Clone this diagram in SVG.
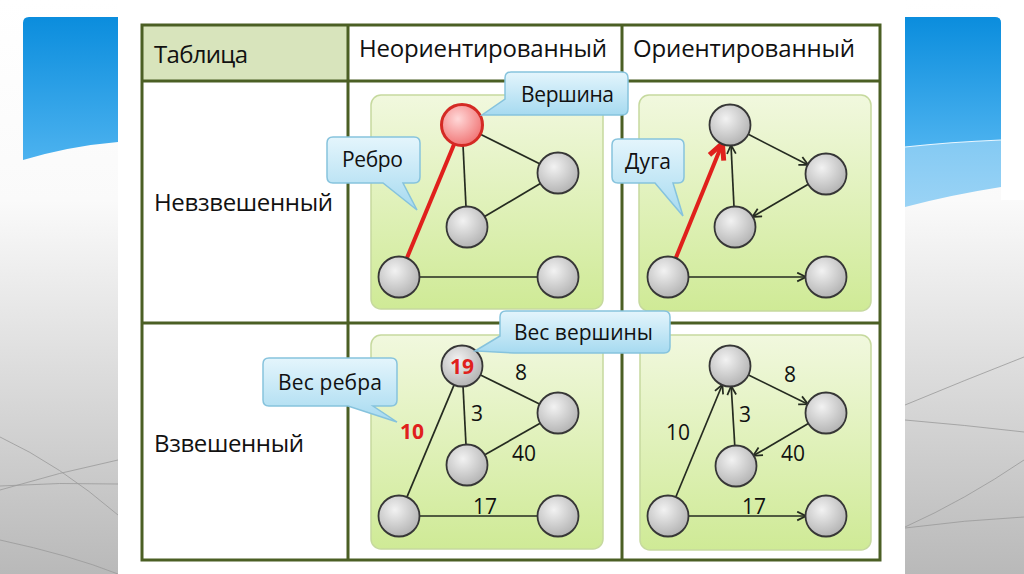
<svg xmlns="http://www.w3.org/2000/svg" width="1024" height="574" viewBox="0 0 1024 574">
<defs>
  <linearGradient id="gside" x1="0" y1="0" x2="0" y2="1">
    <stop offset="0" stop-color="#ffffff"/>
    <stop offset="0.35" stop-color="#fafafa"/>
    <stop offset="1" stop-color="#b9b9b9"/>
  </linearGradient>
  <linearGradient id="gblue" x1="0" y1="0" x2="0" y2="1">
    <stop offset="0" stop-color="#0b8ddd"/>
    <stop offset="1" stop-color="#4cb2ef"/>
  </linearGradient>
  <linearGradient id="gblue2" x1="0" y1="0" x2="0" y2="1">
    <stop offset="0" stop-color="#5ab8f0"/>
    <stop offset="1" stop-color="#9ad3f5"/>
  </linearGradient>
  <linearGradient id="gpanel" x1="0" y1="0" x2="0" y2="1">
    <stop offset="0" stop-color="#f1f8de"/>
    <stop offset="1" stop-color="#cfea96"/>
  </linearGradient>
  <linearGradient id="gcall" x1="0" y1="0" x2="0" y2="1">
    <stop offset="0" stop-color="#e4f5fc"/>
    <stop offset="1" stop-color="#a6daf0"/>
  </linearGradient>
  <radialGradient id="gnode" cx="0.4" cy="0.35" r="0.7">
    <stop offset="0" stop-color="#f2f2f2"/>
    <stop offset="1" stop-color="#b0b0b0"/>
  </radialGradient>
  <radialGradient id="gred" cx="0.4" cy="0.35" r="0.7">
    <stop offset="0" stop-color="#ffd8d8"/>
    <stop offset="1" stop-color="#f07070"/>
  </radialGradient>
  <marker id="arr" viewBox="0 0 10 10" refX="9" refY="5" markerWidth="11" markerHeight="11" markerUnits="userSpaceOnUse" orient="auto">
    <path d="M1,1 L9,5 L1,9" fill="none" stroke="#252b20" stroke-width="1.6"/>
  </marker>
  <marker id="arrred" viewBox="0 0 20 20" refX="17" refY="10" markerWidth="22" markerHeight="22" markerUnits="userSpaceOnUse" orient="auto">
    <path d="M3,3 L17,10 L3,17" fill="none" stroke="#e0201c" stroke-width="4.5"/>
  </marker>
  <style>
    .lbl { font-family: "Open Sans", "Noto Sans", sans-serif; fill: #111111; }
    .hdr { font-size: 24px; }
    .call { font-size: 21px; }
    .num { font-family: "Open Sans", "Noto Sans", sans-serif; font-size: 21px; fill: #111111; text-anchor: middle; }
    .rnum { font-family: "Open Sans", "Noto Sans", sans-serif; font-size: 21px; font-weight: bold; fill: #e0201c; text-anchor: middle; }
    .grid { fill: none; stroke: #4b5f24; stroke-width: 3; }
    .panel { fill: url(#gpanel); stroke: #c6d99e; stroke-width: 1.5; }
    .callout { fill: url(#gcall); stroke: #86c3dd; stroke-width: 1.5; }
    .node { fill: url(#gnode); stroke: #363636; stroke-width: 1.8; }
    .rnode { fill: url(#gred); stroke: #d42a24; stroke-width: 3; }
    .edge { stroke: #252b20; stroke-width: 1.7; fill: none; }
    .aedge { stroke: #252b20; stroke-width: 1.7; fill: none; marker-end: url(#arr); }
    .redge { stroke: #e0201c; stroke-width: 4; fill: none; }
    .deco { fill: none; stroke: #9a9a9a; stroke-width: 1; opacity: 0.8; }
  </style>
</defs>

<!-- background slide -->
<rect x="0" y="0" width="1024" height="574" fill="#ffffff"/>
<g id="slide-left">
  <rect x="0" y="0" width="118" height="574" fill="url(#gside)"/>
  <path d="M29,17 H118 V142 Q70,146 23,160 V23 Q23,17 29,17 Z" fill="url(#gblue)"/>
  <path class="deco" d="M0,437 Q60,465 118,515"/>
  <path class="deco" d="M0,490 Q60,472 118,460"/>
  <path class="deco" d="M0,486 Q60,482 118,484"/>
  <path class="deco" d="M0,540 Q70,555 118,574"/>
  <rect x="118.5" y="465" width="4.5" height="78" rx="1.5" fill="#6e8c2c"/>
</g>
<g id="slide-right">
  <rect x="905" y="0" width="119" height="574" fill="url(#gside)"/>
  <rect x="1001" y="0" width="23" height="200" fill="#ffffff"/>
  <path d="M905,17 H995 Q1001,17 1001,23 V187 Q950,195 905,207 Z" fill="url(#gblue2)"/>
  <path d="M905,17 H995 Q1001,17 1001,23 V140 Q950,142 905,147 Z" fill="url(#gblue)"/>
  <path d="M905,147 Q950,142 1001,140" fill="none" stroke="#e8f6ff" stroke-width="1.2"/>
  <path class="deco" d="M905,405 Q965,380 1024,357"/>
  <path class="deco" d="M905,527 Q965,500 1024,460"/>
  <path class="deco" d="M905,528 Q965,520 1024,517"/>
  <path class="deco" d="M905,420 Q965,425 1024,432"/>
</g>
<rect x="118" y="0" width="787" height="574" fill="#ffffff"/>

<!-- table -->
<g id="table">
  <rect x="142" y="25" width="206" height="56" fill="#d8e4bc"/>
  <rect class="grid" x="142" y="25" width="738" height="535"/>
  <line class="grid" x1="348" y1="25" x2="348" y2="560"/>
  <line class="grid" x1="622" y1="25" x2="622" y2="560"/>
  <line class="grid" x1="142" y1="81" x2="880" y2="81"/>
  <line class="grid" x1="142" y1="323" x2="880" y2="323"/>
  <text class="lbl hdr" x="154" y="63" textLength="94">Таблица</text>
  <text class="lbl hdr" x="359" y="57" textLength="248">Неориентированный</text>
  <text class="lbl hdr" x="633" y="57" textLength="222">Ориентированный</text>
  <text class="lbl hdr" x="154" y="211" textLength="179">Невзвешенный</text>
  <text class="lbl hdr" x="154" y="452" textLength="150">Взвешенный</text>
</g>

<!-- panels -->
<g id="panels">
  <rect class="panel" x="371" y="95" width="232" height="214" rx="10"/>
  <rect class="panel" x="639" y="95" width="232" height="216" rx="10"/>
  <rect class="panel" x="371" y="335" width="232" height="214" rx="10"/>
  <rect class="panel" x="640" y="335" width="231" height="215" rx="10"/>
</g>

<!-- connectors -->
<g id="connectors">
  <!-- top-middle: undirected unweighted -->
  <line class="edge" x1="479.9" y1="133.9" x2="540.1" y2="164.1"/>
  <line class="edge" x1="463" y1="145" x2="466" y2="207"/>
  <line class="edge" x1="484.2" y1="216.8" x2="540.8" y2="183.2"/>
  <line class="redge" x1="406.7" y1="258.5" x2="454" y2="144.4"/>
  <line class="edge" x1="419" y1="277" x2="538" y2="277"/>
  <!-- top-right: directed unweighted -->
  <line class="aedge" x1="747.8" y1="134.1" x2="808.2" y2="164.9"/>
  <line class="aedge" x1="808.7" y1="184.1" x2="752.3" y2="216.9"/>
  <line class="aedge" x1="734" y1="207" x2="731" y2="145"/>
  <line class="redge" x1="675.6" y1="258.5" x2="722.4" y2="143.5" marker-end="url(#arrred)"/>
  <line class="aedge" x1="688" y1="277" x2="806" y2="277"/>
  <!-- bottom-middle: undirected weighted -->
  <line class="edge" x1="480" y1="374.8" x2="540" y2="404.2"/>
  <line class="edge" x1="463" y1="386" x2="466" y2="445"/>
  <line class="edge" x1="484.4" y1="455.1" x2="540.6" y2="422.9"/>
  <line class="edge" x1="406.7" y1="497.6" x2="454.3" y2="384.4"/>
  <line class="edge" x1="419" y1="516" x2="538" y2="516"/>
  <!-- bottom-right: directed weighted -->
  <line class="aedge" x1="748" y1="374.8" x2="808" y2="404.2"/>
  <line class="aedge" x1="808.8" y1="423.2" x2="753.2" y2="455.8"/>
  <line class="aedge" x1="734.8" y1="446" x2="731.2" y2="386"/>
  <line class="aedge" x1="675.6" y1="497.5" x2="722.4" y2="384.5"/>
  <line class="aedge" x1="688" y1="516" x2="806" y2="516"/>
</g>

<!-- edge weights -->
<g id="weights">
  <text class="num" x="521" y="380">8</text>
  <text class="num" x="477" y="421">3</text>
  <text class="num" x="524" y="461">40</text>
  <text class="rnum" x="412" y="439">10</text>
  <text class="num" x="485" y="514">17</text>
  <text class="num" x="790" y="382">8</text>
  <text class="num" x="745" y="422">3</text>
  <text class="num" x="678" y="440">10</text>
  <text class="num" x="793" y="461">40</text>
  <text class="num" x="754" y="514">17</text>
</g>

<!-- nodes: top-middle -->
<g id="n1a"><circle class="rnode" cx="462" cy="125" r="20.5"/></g>
<g id="n1b"><circle class="node" cx="558" cy="173" r="20.5"/></g>
<g id="n1c"><circle class="node" cx="467" cy="227" r="20.5"/></g>
<g id="n1d"><circle class="node" cx="399" cy="277" r="20.5"/></g>
<g id="n1e"><circle class="node" cx="558" cy="277" r="20.5"/></g>
<!-- nodes: top-right -->
<g id="n2a"><circle class="node" cx="730" cy="125" r="20.5"/></g>
<g id="n2b"><circle class="node" cx="826" cy="174" r="20.5"/></g>
<g id="n2c"><circle class="node" cx="735" cy="227" r="20.5"/></g>
<g id="n2d"><circle class="node" cx="668" cy="277" r="20.5"/></g>
<g id="n2e"><circle class="node" cx="826" cy="277" r="20.5"/></g>
<!-- nodes: bottom-middle -->
<g id="n3a"><circle class="node" cx="462" cy="366" r="20.5"/><text class="rnum" x="462" y="373.5">19</text></g>
<g id="n3b"><circle class="node" cx="558" cy="413" r="20.5"/></g>
<g id="n3c"><circle class="node" cx="467" cy="465" r="20.5"/></g>
<g id="n3d"><circle class="node" cx="399" cy="516" r="20.5"/></g>
<g id="n3e"><circle class="node" cx="558" cy="516" r="20.5"/></g>
<!-- nodes: bottom-right -->
<g id="n4a"><circle class="node" cx="730" cy="366" r="20.5"/></g>
<g id="n4b"><circle class="node" cx="826" cy="413" r="20.5"/></g>
<g id="n4c"><circle class="node" cx="736" cy="466" r="20.5"/></g>
<g id="n4d"><circle class="node" cx="668" cy="516" r="20.5"/></g>
<g id="n4e"><circle class="node" cx="826" cy="516" r="20.5"/></g>

<!-- callouts -->
<g id="callout-vershina">
  <path class="callout" d="M511,72 H622 Q628,72 628,78 V109 Q628,115 622,115 H518 L482,115 L505,99 V78 Q505,72 511,72 Z"/>
  <text class="lbl call" x="521" y="102" textLength="93">Вершина</text>
</g>
<g id="callout-rebro">
  <path class="callout" d="M333,137 H414 Q420,137 420,143 V177 Q420,183 414,183 H403 L417,210 L383,183 H333 Q327,183 327,177 V143 Q327,137 333,137 Z"/>
  <text class="lbl call" x="342" y="167" textLength="61">Ребро</text>
</g>
<g id="callout-duga">
  <path class="callout" d="M618,139 H678 Q684,139 684,145 V177 Q684,183 678,183 H673 L683,216 L655,183 H618 Q612,183 612,177 V145 Q612,139 618,139 Z"/>
  <text class="lbl call" x="625" y="169" textLength="46">Дуга</text>
</g>
<g id="callout-ves-vershiny">
  <path class="callout" d="M506,311 H664 Q670,311 670,317 V347 Q670,353 664,353 H514 L475,351 L500,336 V317 Q500,311 506,311 Z"/>
  <text class="lbl call" x="514" y="340" textLength="139">Вес вершины</text>
</g>
<g id="callout-ves-rebra">
  <path class="callout" d="M269,358 H391 Q397,358 397,364 V400 Q397,406 391,406 H373 L397,422 L348,406 H269 Q263,406 263,400 V364 Q263,358 269,358 Z"/>
  <text class="lbl call" x="278" y="390" textLength="104">Вес ребра</text>
</g>
</svg>
